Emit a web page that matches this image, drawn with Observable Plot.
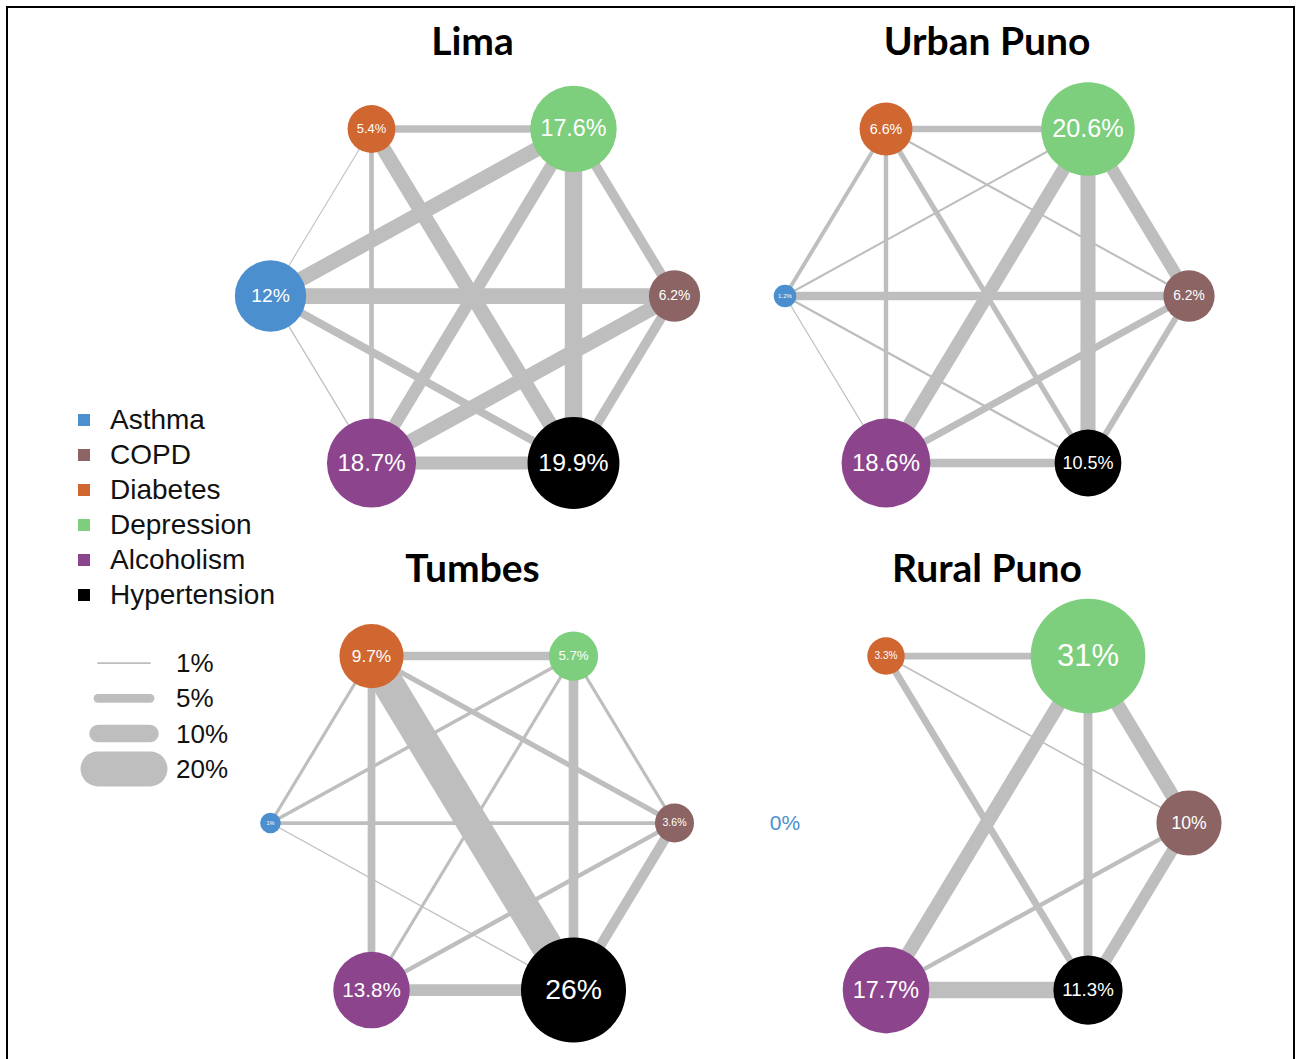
<!DOCTYPE html>
<html>
<head>
<meta charset="utf-8">
<script src="https://cdn.jsdelivr.net/npm/d3@7"></script>
<script src="https://cdn.jsdelivr.net/npm/@observablehq/plot@0.6"></script>
<style>
  html, body { margin: 0; padding: 0; background: #fff; overflow: hidden; }
  #wrap { position: relative; width: 1296px; height: 1059px; }
  #chart { position: absolute; left: 0; top: 0; }
  #frame { position: absolute; left: 6px; top: 6px; width: 1285px; height: 1100px; border: 2.5px solid #000; pointer-events: none; }
  #legend { position: absolute; left: 78px; top: 402px; font-family: "Liberation Sans", Arial, sans-serif; font-size: 28px; color: #111; }
  #legend .row { height: 35px; display: flex; align-items: center; }
  #legend .sw { width: 12px; height: 12px; margin-right: 20px; }
  #wlegend { position: absolute; left: 0; top: 640px; }
</style>
</head>
<body>
<div id="wrap">
  <div id="chart"></div>
  <div id="legend"></div>
  <div id="wlegend"></div>
  <div id="frame"></div>
</div>
<script>
// ---------------- data ----------------
const conditions = ["Asthma", "COPD", "Diabetes", "Depression", "Alcoholism", "Hypertension"];
const conditionColors = ["#4b8fce", "#8c6464", "#d06630", "#7dce7d", "#8c448c", "#000000"];

const sites = ["Lima", "Urban Puno", "Tumbes", "Rural Puno"];

// prevalence (%) per condition, same order as `conditions`
const prevLima      = [12,  6.2, 5.4, 17.6, 18.7, 19.9];
const prevUrbanPuno = [1.2, 6.2, 6.6, 20.6, 18.6, 10.5];
const prevTumbes    = [1,   3.6, 9.7, 5.7,  13.8, 26];
const prevRuralPuno = [0,   10,  3.3, 31,   17.7, 11.3];

// condition pairs (edges)
const edgePairs = [
  ["Diabetes", "Depression"], ["Diabetes", "Asthma"], ["Diabetes", "Alcoholism"],
  ["Diabetes", "Hypertension"], ["Diabetes", "COPD"], ["Depression", "Asthma"],
  ["Depression", "Alcoholism"], ["Depression", "Hypertension"], ["Depression", "COPD"],
  ["Asthma", "COPD"], ["Asthma", "Hypertension"], ["Asthma", "Alcoholism"],
  ["COPD", "Alcoholism"], ["COPD", "Hypertension"], ["Alcoholism", "Hypertension"]
];
// co-occurrence (%) per pair, same order as `edgePairs` (0 = no edge)
const coLima      = [4.3, 0.6, 2.7, 8.5, 0,   8.5, 7,   10,  5.5, 9,   4.5, 0.8, 8.5, 5.5, 7.5];
const coUrbanPuno = [3.8, 2.2, 2.5, 3,   1.2, 1.2, 7.5, 8.6, 7,   4.8, 1.4, 0.7, 4,   3.5, 4.8];
const coTumbes    = [4.8, 1.8, 4.4, 18,  3,   2,   1.8, 5.5, 1.8, 2.2, 0.7, 0,   2.5, 5.7, 6.7];
const coRuralPuno = [3.8, 0,   0,   4,   0.9, 0,   8,   5.1, 8,   0,   0,   0,   2.5, 6.5, 9.5];

const widthLegendValues = [1, 5, 10, 20];

// ---------------- layout ----------------
const slot = {
  Asthma: [-2, 0], COPD: [2, 0], Diabetes: [-1, 1],
  Depression: [1, 1], Alcoholism: [-1, -1], Hypertension: [1, -1]
};
const panelGrid = [[0, 0], [1, 0], [0, 1], [1, 1]];
const COL_STEP = 5.094, ROW_STEP = 3.156, TITLE_OFFSET = 1.518;
const PX_X = 101, PX_Y = 167;            // pixels per layout unit
const ORIGIN_X = 472, ORIGIN_Y = 295.5;   // pixel position of the first panel centre
const W = 1296, H = 1059;
const WIDTH_PER_PCT = 1.75;               // stroke px per % co-occurrence
const fontFamily = "'Liberation Sans', Arial, sans-serif";

const prevalence = [prevLima, prevUrbanPuno, prevTumbes, prevRuralPuno];
const cooccurrence = [coLima, coUrbanPuno, coTumbes, coRuralPuno];

const nodes = [], edges = [], titles = [];
sites.forEach((site, i) => {
  const [col, row] = panelGrid[i];
  const cx = col * COL_STEP, cy = -row * ROW_STEP;
  titles.push({site, x: cx, y: cy + TITLE_OFFSET});
  conditions.forEach((c, j) => {
    nodes.push({site, cond: c, p: prevalence[i][j], color: conditionColors[j],
                x: cx + slot[c][0], y: cy + slot[c][1]});
  });
  edgePairs.forEach(([a, b], k) => {
    const w = cooccurrence[i][k];
    if (w > 0) edges.push({site, a, b, w,
      x1: cx + slot[a][0], y1: cy + slot[a][1], x2: cx + slot[b][0], y2: cy + slot[b][1]});
  });
});

const rRange = 103; // radius (px) at 100%
const radius = p => rRange * Math.sqrt(p / 100);

const chart = Plot.plot({
  width: W, height: H, margin: 0,
  x: {domain: [-ORIGIN_X / PX_X, (W - ORIGIN_X) / PX_X], axis: null},
  y: {domain: [-(H - ORIGIN_Y) / PX_Y, ORIGIN_Y / PX_Y], axis: null},
  r: {type: "sqrt", domain: [0, 100], range: [0, rRange]},
  color: {type: "identity"},
  marks: [
    Plot.link(edges, {x1: "x1", y1: "y1", x2: "x2", y2: "y2", stroke: "#bebebe",
                      strokeWidth: d => WIDTH_PER_PCT * d.w, strokeLinecap: "butt"}),
    Plot.dot(nodes.filter(d => d.p > 0), {x: "x", y: "y", r: "p", fill: "color"}),
    Plot.text(nodes, {x: "x", y: "y", text: d => d.p + "%",
                      fill: d => d.p > 0 ? "white" : d.color,
                      fontSize: d => d.p > 0 ? 0.54 * radius(d.p) : 21,
                      fontFamily}),
    Plot.text(titles, {x: "x", y: "y", text: "site", fontSize: 39, fontWeight: "bold",
                       fontFamily: "Lato, 'Open Sans', sans-serif", fill: "#000"})
  ]
});
document.getElementById("chart").appendChild(chart);

// colour legend
const legend = d3.select("#legend");
conditions.forEach((c, j) => {
  const row = legend.append("div").attr("class", "row");
  row.append("div").attr("class", "sw").style("background", conditionColors[j]);
  row.append("span").text(c);
});

// width legend
const wsvg = d3.select("#wlegend").append("svg").attr("width", 260).attr("height", 160);
widthLegendValues.forEach((v, i) => {
  const y = 23 + i * 35.3;
  wsvg.append("line").attr("x1", 98).attr("x2", 150).attr("y1", y).attr("y2", y)
    .attr("stroke", "#bebebe").attr("stroke-width", WIDTH_PER_PCT * v).attr("stroke-linecap", "round");
  wsvg.append("text").attr("x", 176).attr("y", y).attr("dy", "0.35em")
    .attr("font-family", fontFamily).attr("font-size", 26).attr("fill", "#111").text(v + "%");
});
</script>
</body>
</html>
